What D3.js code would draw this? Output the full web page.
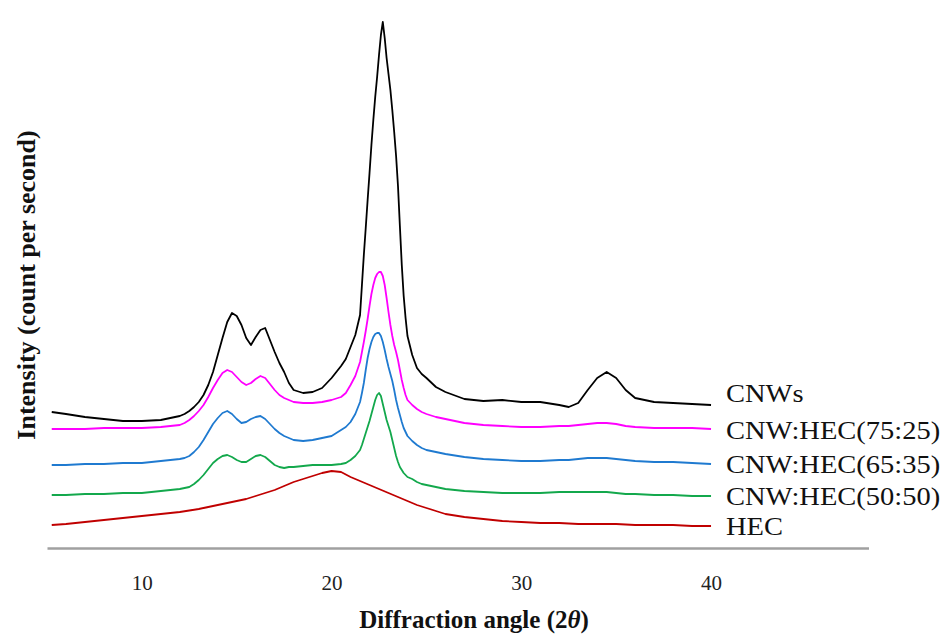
<!DOCTYPE html>
<html>
<head>
<meta charset="utf-8">
<script src="https://cdn.jsdelivr.net/npm/d3@7/dist/d3.min.js"></script>
<style>
  html, body { margin: 0; padding: 0; background: #ffffff; }
  svg { display: block; }
</style>
</head>
<body>
<svg id="chart" width="948" height="635"></svg>
<script>
// ---------------- data ----------------
const angles = [5.25, 6, 7, 8, 9, 10, 11, 12,
  12.25, 12.5, 12.75, 13, 13.25, 13.5, 13.75, 14, 14.25, 14.5, 14.75, 15, 15.25, 15.5, 15.75,
  16, 16.25, 16.5, 16.75, 17, 17.25, 17.5, 17.75,
  18, 18.5, 19, 19.5, 20, 20.5, 20.75, 21, 21.25, 21.5,
  21.6, 21.7, 21.8, 21.9, 22.0, 22.1, 22.2, 22.3, 22.4, 22.5, 22.6, 22.7, 22.8, 22.9,
  23.0, 23.1, 23.2, 23.3, 23.4, 23.5, 23.6, 23.7, 23.8, 23.9, 24.0,
  24.25, 24.5, 24.75, 25, 25.5, 26,
  27, 28, 29, 30, 31, 32, 32.5, 33, 33.5, 34, 34.5, 35, 35.5, 36, 37, 38, 39, 40];

const cnws = [136, 134, 131, 129, 127, 127, 128, 132,
  134, 137, 141, 146, 153, 163, 176, 193, 210, 226, 235, 232, 223, 210, 203,
  211, 218, 220, 208, 196, 185, 176, 165,
  158, 155, 156, 160, 170, 182, 189, 201, 213, 233,
  263, 293, 320, 348, 375, 403, 428, 451, 471, 493, 513, 526, 510, 490,
  474, 458, 438, 416, 392, 362, 322, 283, 252, 230, 212,
  193, 180, 174, 170, 161, 156,
  149, 147, 148, 146, 146, 143, 141, 145, 158, 170, 176, 170, 158, 150, 146, 145, 144, 143];

const cnwHec7525 = [119, 119, 119, 120, 120, 120, 121, 123,
  125, 128, 132, 137, 143, 151, 160, 168, 175, 178, 176, 171, 166, 163, 165,
  169, 172, 170, 164, 158, 153, 150, 148,
  146, 145, 145, 146, 148, 151, 155, 163, 172, 186,
  196, 206, 217, 229, 242, 254, 263, 270, 274, 276, 276, 272, 263, 250,
  236, 223, 212, 203, 196, 188, 178, 168, 160, 153, 148,
  143, 139, 136, 134, 131, 129,
  125, 123, 122, 121, 121, 122, 122, 123, 124, 125, 125, 124, 122, 121, 120, 120, 120, 119];

const cnwHec6535 = [83, 83, 84, 84, 85, 85, 87, 89,
  90, 92, 96, 101, 108, 116, 124, 130, 135, 137, 134, 129, 125, 126, 129,
  131, 132, 129, 124, 119, 115, 112, 110,
  108, 107, 108, 110, 112, 118, 121, 126, 134, 146,
  155, 165, 178, 190, 199, 206, 211, 214, 215, 215, 212, 206, 198, 189,
  181, 174, 167, 158, 148, 140, 133, 126, 120, 116, 112,
  107, 103, 100, 98, 96, 94,
  91, 89, 88, 87, 87, 88, 88, 89, 90, 90, 90, 89, 88, 87, 86, 86, 85, 84];

const cnwHec5050 = [53, 53, 54, 54, 55, 55, 57, 59,
  60, 61, 64, 68, 73, 79, 85, 89, 92, 93, 91, 88, 86, 86, 89,
  92, 93, 91, 87, 83, 81, 80, 81,
  81, 82, 83, 83, 83, 84, 85, 88, 92, 98,
  103, 109, 115, 121, 127, 134, 141, 148, 153, 155, 152, 144, 136, 128,
  122, 116, 108, 100, 92, 86, 81, 78, 75, 73, 71,
  69, 66, 64, 63, 61, 59,
  57, 56, 55, 55, 55, 56, 56, 56, 56, 56, 56, 55, 54, 54, 53, 53, 52, 52];

const hecAngles = [5.25, 6, 7, 8, 9, 10, 11, 12, 13, 14, 14.5, 15, 15.5, 16, 16.5, 17, 17.5,
  18, 18.5, 19, 19.5, 20, 20.5, 21, 21.5, 22, 22.5, 23, 23.5, 24, 24.5, 25, 25.5, 26,
  27, 28, 29, 30, 31, 32, 33, 34, 35, 36, 37, 38, 39, 40];
const hec = [23, 24, 26, 28, 30, 32, 34, 36, 39, 43, 45, 47, 49, 52, 55, 58, 62,
  66, 69, 72, 75, 77, 76, 71, 67, 63, 59, 55, 51, 47, 43, 40, 37, 34,
  31, 29, 27, 26, 25, 25, 24, 24, 24, 23, 23, 23, 22, 22];

const seriesNames = ["CNWs", "CNW:HEC(75:25)", "CNW:HEC(65:35)", "CNW:HEC(50:50)", "HEC"];
const seriesColors = ["#000000", "#ff00ff", "#1f7ad0", "#13a84c", "#c00000"];
const xTickValues = [10, 20, 30, 40];
const xTitle = "Diffraction angle (2";
const yTitle = "Intensity (count per second)";

// ---------------- chart ----------------
const svg = d3.select("#chart");
const x = d3.scaleLinear().domain([5, 48.3]).range([47, 868.5]);
const y = d3.scaleLinear().domain([0, 530]).range([548, 18]);

const seriesData = [
  { name: seriesNames[0], color: seriesColors[0], xs: angles, ys: cnws, labelDy: -12 },
  { name: seriesNames[1], color: seriesColors[1], xs: angles, ys: cnwHec7525, labelDy: 1 },
  { name: seriesNames[2], color: seriesColors[2], xs: angles, ys: cnwHec6535, labelDy: 0 },
  { name: seriesNames[3], color: seriesColors[3], xs: angles, ys: cnwHec5050, labelDy: 0 },
  { name: seriesNames[4], color: seriesColors[4], xs: hecAngles, ys: hec, labelDy: 0 }
];

const line = d3.line().x(d => x(d[0])).y(d => y(d[1]));

// draw bottom series first so black is on top
seriesData.slice().reverse().forEach(s => {
  const pts = s.xs.map((a, i) => [a, s.ys[i]]);
  svg.append("path")
    .datum(pts)
    .attr("fill", "none")
    .attr("stroke", s.color)
    .attr("stroke-width", 1.8)
    .attr("stroke-linejoin", "round")
    .attr("d", line);
});

// legend labels at line ends
seriesData.forEach(s => {
  const last = s.ys[s.ys.length - 1];
  const t = svg.append("text")
    .attr("x", 726)
    .attr("y", y(last) + s.labelDy)
    .attr("dy", "0.35em")
    .attr("font-family", "'Liberation Serif', 'Times New Roman', serif")
    .attr("font-size", 25)
    .attr("fill", "#111")
    .text(s.name);
  const w = t.node().getComputedTextLength();
  t.attr("textLength", w * 1.14).attr("lengthAdjust", "spacingAndGlyphs");
});

// x axis
const xAxis = d3.axisBottom(x).tickValues(xTickValues).tickSize(0).tickPadding(27)
  .tickFormat(d3.format("d"));
const gx = svg.append("g").attr("transform", "translate(0,548)").call(xAxis);
gx.select(".domain").attr("stroke", "#a0a0a0").attr("stroke-width", 2.5);
gx.selectAll("text")
  .attr("font-family", "'Liberation Serif', 'Times New Roman', serif")
  .attr("font-size", 21)
  .attr("fill", "#222");

// x title
const xt = svg.append("text")
  .attr("x", 474)
  .attr("y", 628)
  .attr("text-anchor", "middle")
  .attr("font-family", "'Liberation Serif', 'Times New Roman', serif")
  .attr("font-weight", "bold")
  .attr("font-size", 25)
  .attr("fill", "#111");
xt.append("tspan").text(xTitle);
xt.append("tspan").attr("font-style", "italic").text("\u03B8");
xt.append("tspan").text(")");

// y title
svg.append("text")
  .attr("transform", "translate(35,285) rotate(-90)")
  .attr("text-anchor", "middle")
  .attr("font-family", "'Liberation Serif', 'Times New Roman', serif")
  .attr("font-weight", "bold")
  .attr("font-size", 26)
  .attr("fill", "#111")
  .text(yTitle);
</script>
</body>
</html>
